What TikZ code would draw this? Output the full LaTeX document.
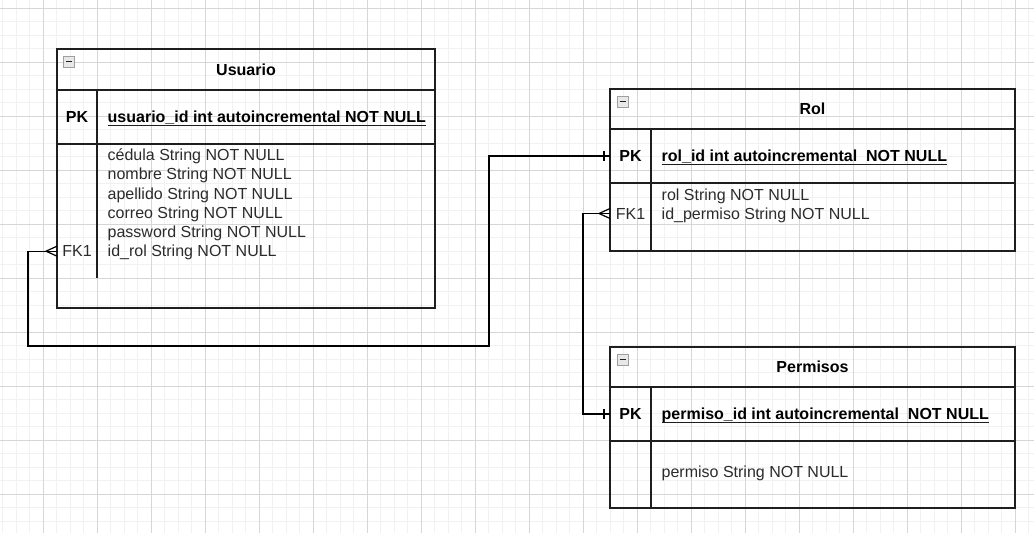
\documentclass[tikz,border=0pt]{standalone}
\usepackage{fontspec}
\setmainfont{Liberation Sans}
\usetikzlibrary{positioning}

\definecolor{gridmajor}{HTML}{D6D6D6}
\definecolor{gridminor}{HTML}{F1F1F1}
\definecolor{inkline}{HTML}{1E1E1E}
\definecolor{fieldink}{HTML}{2B2B2B}
\newcommand\erfont{\fontsize{16}{19.2}\selectfont}

\begin{document}
\begin{tikzpicture}[x=1pt,y=-1pt]
\tikzstyle{every node}=[inner sep=0pt, outer sep=0pt, font=\erfont]
\tikzstyle{entbox}=[draw=inkline, line width=1.2pt]
\tikzstyle{enthead}=[entbox, font=\erfont\bfseries]
\tikzstyle{keycell}=[minimum width=40pt, font=\erfont\bfseries]
\tikzstyle{fkcell}=[minimum width=40pt, text=fieldink]
\tikzstyle{fieldtext}=[text=fieldink, align=left]
\tikzstyle{iconbox}=[draw=gray!75, fill=gray!18, line width=0.8pt]
\tikzstyle{relline}=[draw=black, line width=1.2pt]
\useasboundingbox (0,0) rectangle (1034,533);
% grid
\foreach \i in {0,...,76} \draw[gridminor, line width=0.8pt] ({2.8+13.5*\i},0) -- ({2.8+13.5*\i},533);
\foreach \j in {0,...,38} \draw[gridminor, line width=0.8pt] (0,{8.3+13.5*\j}) -- (1034,{8.3+13.5*\j});
\foreach \i in {0,...,18} \draw[gridmajor, line width=1pt] ({43.3+54*\i},0) -- ({43.3+54*\i},533);
\foreach \j in {0,...,9} \draw[gridmajor, line width=1pt] (0,{8.3+54*\j}) -- (1034,{8.3+54*\j});

% Usuario
\node[enthead, minimum width=378pt, minimum height=41pt] (usrhead) at (246,69.5) {Usuario};
\node[entbox, minimum width=378pt, minimum height=54pt, below=0pt of usrhead] (usrpkrow) {};
\node[entbox, minimum width=378pt, minimum height=164pt, below=0pt of usrpkrow] (usrbody) {};
\draw[entbox] (usrpkrow.north west) ++(40,0) -- ++(0,188);
\draw[iconbox] (usrhead.north west) ++(6.5,7) rectangle ++(11,11);
\draw[inkline, line width=1.6pt] (usrhead.north west) ++(9,12.5) -- ++(6,0);
\node[keycell, right=0pt of usrpkrow.west] (usrpk) {PK};
\node[font=\erfont\bfseries, base right=10.7pt of usrpk] (usrpkfield) {usuario\_id int autoincremental NOT NULL};
\draw[inkline, line width=1.2pt] ([yshift=-2.7pt]usrpkfield.base west) -- ([yshift=-2.7pt]usrpkfield.base east);
\node[fieldtext, anchor=base west] (usrfields) at (107.7,256.7) {cédula String NOT NULL\\nombre String NOT NULL\\apellido String NOT NULL\\correo String NOT NULL\\password String NOT NULL\\id\_rol String NOT NULL};
\node[fkcell, anchor=base] (usrfk) at (77,256.7) {FK1};

% Rol
\node[enthead, minimum width=405pt, minimum height=40pt] (rolhead) at (812.5,109) {Rol};
\node[entbox, minimum width=405pt, minimum height=54pt, below=0pt of rolhead] (rolpkrow) {};
\node[entbox, minimum width=405pt, minimum height=68pt, below=0pt of rolpkrow] (rolbody) {};
\draw[entbox] (rolpkrow.north west) ++(41,0) -- ++(0,122);
\draw[iconbox] (rolhead.north west) ++(7,7) rectangle ++(11,11);
\draw[inkline, line width=1.6pt] (rolhead.north west) ++(9.5,12.5) -- ++(6,0);
\node[keycell, minimum width=41pt, right=0pt of rolpkrow.west] (rolpk) {PK};
\node[font=\erfont\bfseries, base right=10.7pt of rolpk] (rolpkfield) {rol\_id int autoincremental\ \ NOT NULL};
\draw[inkline, line width=1.2pt] ([yshift=-2.7pt]rolpkfield.base west) -- ([yshift=-2.7pt]rolpkfield.base east);
\node[fieldtext, anchor=base west] (rolfields) at (661.7,219.2) {rol String NOT NULL\\id\_permiso String NOT NULL};
\node[fkcell, minimum width=41pt, anchor=base] (rolfk) at (630.5,219) {FK1};

% Permisos
\node[enthead, minimum width=405pt, minimum height=40pt] (permhead) at (812.5,367) {Permisos};
\node[entbox, minimum width=405pt, minimum height=54pt, below=0pt of permhead] (permpkrow) {};
\node[entbox, minimum width=405pt, minimum height=67pt, below=0pt of permpkrow] (permbody) {};
\draw[entbox] (permpkrow.north west) ++(41,0) -- ++(0,121);
\draw[iconbox] (permhead.north west) ++(7,7) rectangle ++(11,11);
\draw[inkline, line width=1.6pt] (permhead.north west) ++(9.5,12.5) -- ++(6,0);
\node[keycell, minimum width=41pt, right=0pt of permpkrow.west] (permpk) {PK};
\node[font=\erfont\bfseries, base right=10.7pt of permpk] (permpkfield) {permiso\_id int autoincremental\ \ NOT NULL};
\draw[inkline, line width=1.2pt] ([yshift=-2.7pt]permpkfield.base west) -- ([yshift=-2.7pt]permpkfield.base east);
\node[fieldtext, anchor=base west] (permfields) at (661.7,477) {permiso String NOT NULL};

% relations
\coordinate (bendA) at (489,346);
\draw[relline] (usrfk.west) -- ++(-29,0) |- (bendA) |- (rolpk.west);
\draw[relline] (usrfk.west) ++(0,-5) -- ++(-11,5) -- ++(11,5);
\draw[relline] (rolpk.west) ++(-6,-5) -- ++(0,10);
\draw[relline] (rolfk.west) -- ++(-27,0) |- (permpk.west);
\draw[relline] (rolfk.west) ++(0,-5) -- ++(-11,5) -- ++(11,5);
\draw[relline] (permpk.west) ++(-6,-5) -- ++(0,10);
\end{tikzpicture}
\end{document}
